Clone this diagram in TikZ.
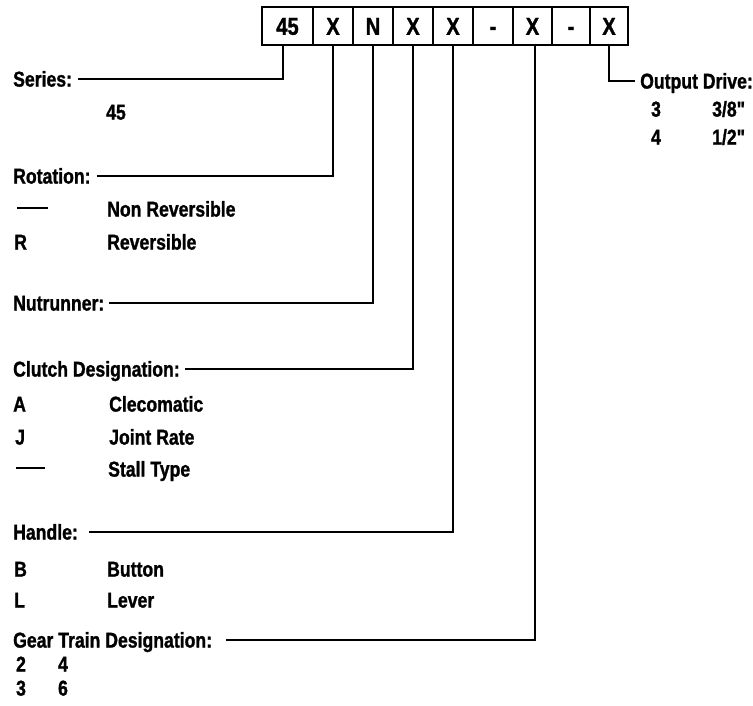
\documentclass[tikz,border=0pt]{standalone}
\usepackage{fontspec}
\setmainfont{Liberation Sans}[FakeStretch=0.82,FakeBold=1.2,Ligatures=TeXOff]
\begin{document}
\begin{tikzpicture}[x=1pt,y=-1pt,
  lab/.style={anchor=west,inner sep=0pt,text height=15.2pt,text depth=0pt,font=\fontsize{21.5}{24}\selectfont\bfseries},
  labc/.style={lab,anchor=center},
  cbox/.style={draw,line width=2.6pt,minimum height=38pt,inner sep=0pt,text height=17.6pt,text depth=0pt,font=\fontsize{24.5}{28}\selectfont\bfseries},
  conn/.style={line width=2pt},
  dashrule/.style={anchor=west,inner sep=0pt}]
\useasboundingbox (0,0) rectangle (753,706);
% code boxes
\node[cbox,minimum width=51pt] (b1) at (287.5,26) {45};
\node[cbox,minimum width=40pt] (b2) at (333,26) {X};
\node[cbox,minimum width=40pt] (b3) at (373,26) {N};
\node[cbox,minimum width=40pt] (b4) at (413,26) {X};
\node[cbox,minimum width=40pt] (b5) at (453,26) {X};
\node[cbox,minimum width=40pt] (b6) at (493,26) {-};
\node[cbox,minimum width=39pt] (b7) at (532.5,26) {X};
\node[cbox,minimum width=38pt] (b8) at (571,26) {-};
\node[cbox,minimum width=38pt] (b9) at (609,26) {X};
% headings
\node[lab] (series) at (13,79) {Series:};
\node[lab] (rotation) at (13,176) {Rotation:};
\node[lab] (nut) at (13,303) {Nutrunner:};
\node[lab] (clutch) at (13,369) {Clutch Designation:};
\node[lab] (handle) at (13,532) {Handle:};
\node[lab] (gear) at (13,640) {Gear Train Designation:};
\node[lab] (out) at (640,81) {Output Drive:};
% series
\node[lab] (s45) at (106,112) {45};
% rotation
\node[dashrule] (rdash) at (17,208) {\rule{31pt}{1.6pt}};
\node[lab] (rnon) at (107,209) {Non Reversible};
\node[lab] (rR) at (14,242) {R};
\node[lab] (rrev) at (107,242) {Reversible};
% clutch
\node[lab] (cA) at (13,404) {A};
\node[lab] (cclec) at (109,404) {Clecomatic};
\node[lab] (cJ) at (15,437) {J};
\node[lab] (cjoint) at (109,437) {Joint Rate};
\node[dashrule] (cdash) at (16,468) {\rule{29pt}{1.6pt}};
\node[lab] (cstall) at (108,469) {Stall Type};
% handle
\node[lab] (hB) at (14,569) {B};
\node[lab] (hbutton) at (107,569) {Button};
\node[lab] (hL) at (14,600) {L};
\node[lab] (hlever) at (107,600) {Lever};
% gear train
\node[labc] (g2) at (21,664) {2};
\node[labc] (g4) at (63,664) {4};
\node[labc] (g3) at (21,688) {3};
\node[labc] (g6) at (63,688) {6};
% output drive
\node[labc] (o3) at (656,109) {3};
\node[lab] (o38) at (712,109) {3/8"};
\node[labc] (o4) at (656,137) {4};
\node[lab] (o12) at (712,137) {1/2"};
% connectors
\draw[conn] ([xshift=6pt]series.east) -| ([xshift=-5pt]b1.south);
\draw[conn] ([xshift=6pt]rotation.east) -| (b2.south);
\draw[conn] ([xshift=5pt]nut.east) -| (b3.south);
\draw[conn] ([xshift=5pt]clutch.east) -| (b4.south);
\draw[conn] ([xshift=11pt]handle.east) -| (b5.south);
\draw[conn] ([xshift=14pt]gear.east) -| ([xshift=2pt]b7.south);
\draw[conn] (b9.south) |- ([xshift=-5pt]out.west);
\end{tikzpicture}
\end{document}
